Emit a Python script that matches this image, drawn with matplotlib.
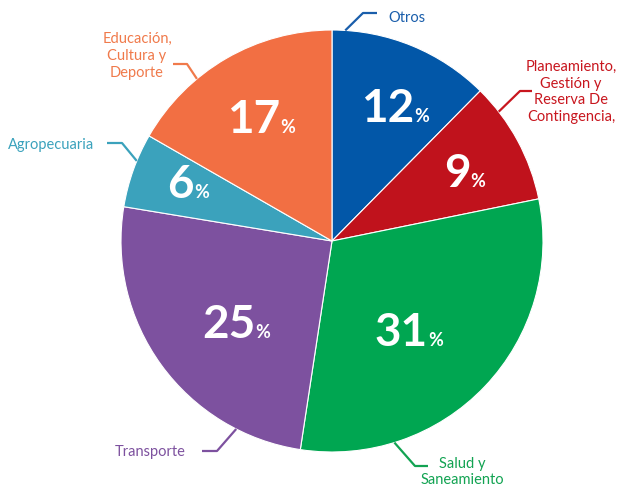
import numpy as np
import matplotlib
matplotlib.use("Agg")
import matplotlib.pyplot as plt
from matplotlib.offsetbox import TextArea, HPacker, AnnotationBbox

# ---- data ----
categories = ["Otros", "Planeamiento,\nGestión y\nReserva De\nContingencia,",
              "Salud y\nSaneamiento", "Transporte", "Agropecuaria",
              "Educación,\nCultura y\nDeporte"]
values = [12.4, 9.4, 30.6, 25.2, 5.7, 16.7]
pct_labels = ["12", "9", "31", "25", "6", "17"]
colors = ["#0257A8", "#C0121C", "#00A651", "#7D519F", "#3BA2BC", "#F26F43"]
label_colors = ["#1A5EAB", "#C8161E", "#12A352", "#7D519F", "#3BA2BC", "#F07A4B"]

# ---- layout (pixel coordinates of the 617x489 canvas, y measured from top) ----
W, H = 617, 489
CX, CY, R = 332, 242, 211
# percentage label: (angle deg, radius fraction)
pct_pos = [(64.1, 0.685), (26.0, 0.70), (-50.7, 0.576), (-138.0, 0.609),
           (159.4, 0.729), (120.8, 0.653)]
# leader: angle on rim, elbow (px), end (px); text anchor (px), ha
leaders = [
    (86.4, (363, 14), (377, 14), (388, 18), "left"),
    (37.8, (520, 92), (532, 92), (571, 92), "center"),
    (-72.8, (415, 467), (428, 467), (462, 472), "center"),
    (-117.0, (217, 452), (202, 452), (150, 452), "center"),
    (157.7, (122, 144), (107, 144), (51, 145), "center"),
    (129.8, (187, 65), (173, 65), (137, 56), "center"),
]

plt.rcParams['font.family'] = ['Lato', 'DejaVu Sans']
fig = plt.figure(figsize=(W / 100, H / 100), dpi=100)
ax = fig.add_axes([0, 0, 1, 1])


def Y(py):
    return H - py


wedges, _ = ax.pie(values, colors=colors, startangle=90, counterclock=False,
                   center=(CX, Y(CY)), radius=R,
                   wedgeprops=dict(edgecolor='white', linewidth=0.8))
ax.set_xlim(0, W)
ax.set_ylim(0, H)
ax.set_aspect('equal')
ax.axis('off')

for lab, (ang, fr) in zip(pct_labels, pct_pos):
    a = np.deg2rad(ang)
    x = CX + fr * R * np.cos(a)
    y = Y(CY) + fr * R * np.sin(a)
    num = TextArea(lab, textprops=dict(color='white', fontsize=33, fontweight='bold'))
    pc = TextArea('%', textprops=dict(color='white', fontsize=13, fontweight='bold'))
    box = HPacker(children=[num, pc], align='baseline', pad=0, sep=0)
    ab = AnnotationBbox(box, (x, y), frameon=False, box_alignment=(0.5, 0.42), pad=0)
    ax.add_artist(ab)

for cat, col, (ang, elbow, end, tpos, ha) in zip(categories, label_colors, leaders):
    a = np.deg2rad(ang)
    sx = CX + R * np.cos(a)
    sy = Y(CY) + R * np.sin(a)
    ax.plot([sx, elbow[0], end[0]], [sy, Y(elbow[1]), Y(end[1])], color=col,
            lw=1.6, solid_capstyle='butt', clip_on=False)
    ax.text(tpos[0], Y(tpos[1]), cat, color=col, fontsize=10.5, ha=ha, va='center',
            multialignment='center', linespacing=1.25)

fig.savefig("out.png", dpi=100)
